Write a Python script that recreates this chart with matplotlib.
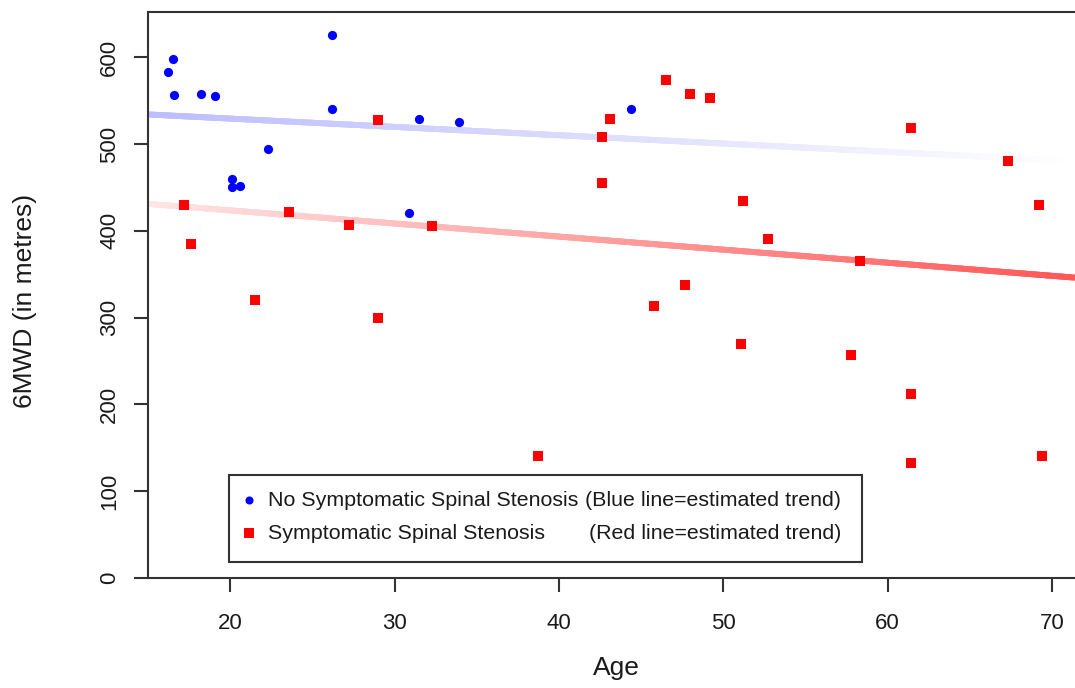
import numpy as np
import matplotlib.pyplot as plt
from matplotlib.collections import LineCollection
from matplotlib.patches import Rectangle

plt.rcParams['font.family'] = ['Liberation Sans', 'DejaVu Sans']

# No symptomatic spinal stenosis (blue circles)
no_ss_age = [16.2, 16.5, 16.6, 18.2, 19.1, 20.1, 20.1, 20.6, 22.3, 26.2, 26.2, 30.9, 31.5, 33.9, 44.4]
no_ss_6mwd = [583, 598, 556, 557, 555, 460, 450, 452, 494, 625, 540, 420, 529, 525, 540]

# Symptomatic spinal stenosis (red squares)
ss_age = [17.2, 17.6, 21.5, 23.6, 27.2, 29.0, 29.0, 32.3, 38.7, 42.6, 42.6, 43.1, 45.8, 46.5,
          47.7, 48.0, 49.2, 51.1, 51.2, 52.7, 57.8, 58.3, 61.4, 61.4, 61.4, 67.3, 69.2, 69.4]
ss_6mwd = [430, 385, 320, 422, 407, 528, 300, 406, 140, 508, 455, 529, 313, 574,
           337, 558, 553, 269, 434, 391, 257, 365, 518, 212, 132, 480, 430, 140]

# estimated trend lines (end points)
trend_age = [15, 71.4]
blue_trend = [534, 480]
red_trend = [431, 346]

x_ticks = [20, 30, 40, 50, 60, 70]
y_ticks = [0, 100, 200, 300, 400, 500, 600]

axis_col = '#333333'
text_col = '#1a1a1a'


def gradient_line(ax, xs, ys, rgb, a0, a1, n=300):
    # shade the line from a0 to a1 (mixed with white so it stays opaque)
    x = np.linspace(xs[0], xs[1], n + 1)
    y = np.interp(x, xs, ys)
    pts = np.column_stack([x, y]).reshape(-1, 1, 2)
    segs = np.concatenate([pts[:-1], pts[1:]], axis=1)
    rgb = np.array(rgb)
    colors = [tuple(1 - a * (1 - rgb)) for a in np.linspace(a0, a1, n)]
    lc = LineCollection(segs, colors=colors, linewidths=4.2, capstyle='projecting', zorder=1)
    ax.add_collection(lc)


fig = plt.figure(figsize=(10.75, 6.88), dpi=100)
ax = fig.add_axes([148 / 1075, 110 / 688, 927 / 1075, 566 / 688])

gradient_line(ax, trend_age, blue_trend, (0, 0, 1), 0.26, 0.0)
gradient_line(ax, trend_age, red_trend, (1, 0, 0), 0.10, 0.66)

ax.scatter(no_ss_age, no_ss_6mwd, s=44, marker='o', color='#0000FF', linewidths=0, zorder=3)
ax.scatter(ss_age, ss_6mwd, s=46, marker='s', color='#FF0000', linewidths=0, zorder=3)

ax.set_xlim(15, 71.4)
ax.set_ylim(0, 652)
ax.set_xticks(x_ticks)
ax.set_yticks(y_ticks)

ax.spines['right'].set_visible(False)
for s in ['left', 'top', 'bottom']:
    ax.spines[s].set_linewidth(1.5)
    ax.spines[s].set_color(axis_col)

ax.tick_params(axis='both', length=10, width=1.5, color=axis_col, labelsize=16, labelcolor=text_col)
ax.tick_params(axis='x', pad=15)
ax.tick_params(axis='y', pad=10)
for lab in ax.get_yticklabels():
    lab.set_rotation(90)
    lab.set_va('center')

ax.set_xlabel('Age', fontsize=19, color=text_col, va='top')
ax.xaxis.set_label_coords(0.505, -0.138)
ax.set_ylabel('6MWD (in metres)', fontsize=19, color=text_col)
ax.yaxis.set_label_coords(-0.12, 0.489)

# legend box
ax.add_patch(Rectangle((0.0874, 0.0283), 0.6828, 0.1537, transform=ax.transAxes,
                       facecolor='white', edgecolor=axis_col, linewidth=1.5, zorder=4))
ax.scatter([0.109], [0.1378], s=34, marker='o', color='#0000FF', linewidths=0,
           transform=ax.transAxes, zorder=5, clip_on=False)
ax.scatter([0.109], [0.0795], s=46, marker='s', color='#FF0000', linewidths=0,
           transform=ax.transAxes, zorder=5, clip_on=False)
ax.text(0.1294, 0.1378, 'No Symptomatic Spinal Stenosis', transform=ax.transAxes,
        fontsize=15.4, color=text_col, va='center', ha='left', zorder=5)
ax.text(0.1294, 0.0795, 'Symptomatic Spinal Stenosis', transform=ax.transAxes,
        fontsize=15.4, color=text_col, va='center', ha='left', zorder=5)
ax.text(0.7476, 0.1378, '(Blue line=estimated trend)', transform=ax.transAxes,
        fontsize=15.4, color=text_col, va='center', ha='right', zorder=5)
ax.text(0.7476, 0.0795, '(Red line=estimated trend)', transform=ax.transAxes,
        fontsize=15.4, color=text_col, va='center', ha='right', zorder=5)

fig.savefig('out.png', dpi=100)
